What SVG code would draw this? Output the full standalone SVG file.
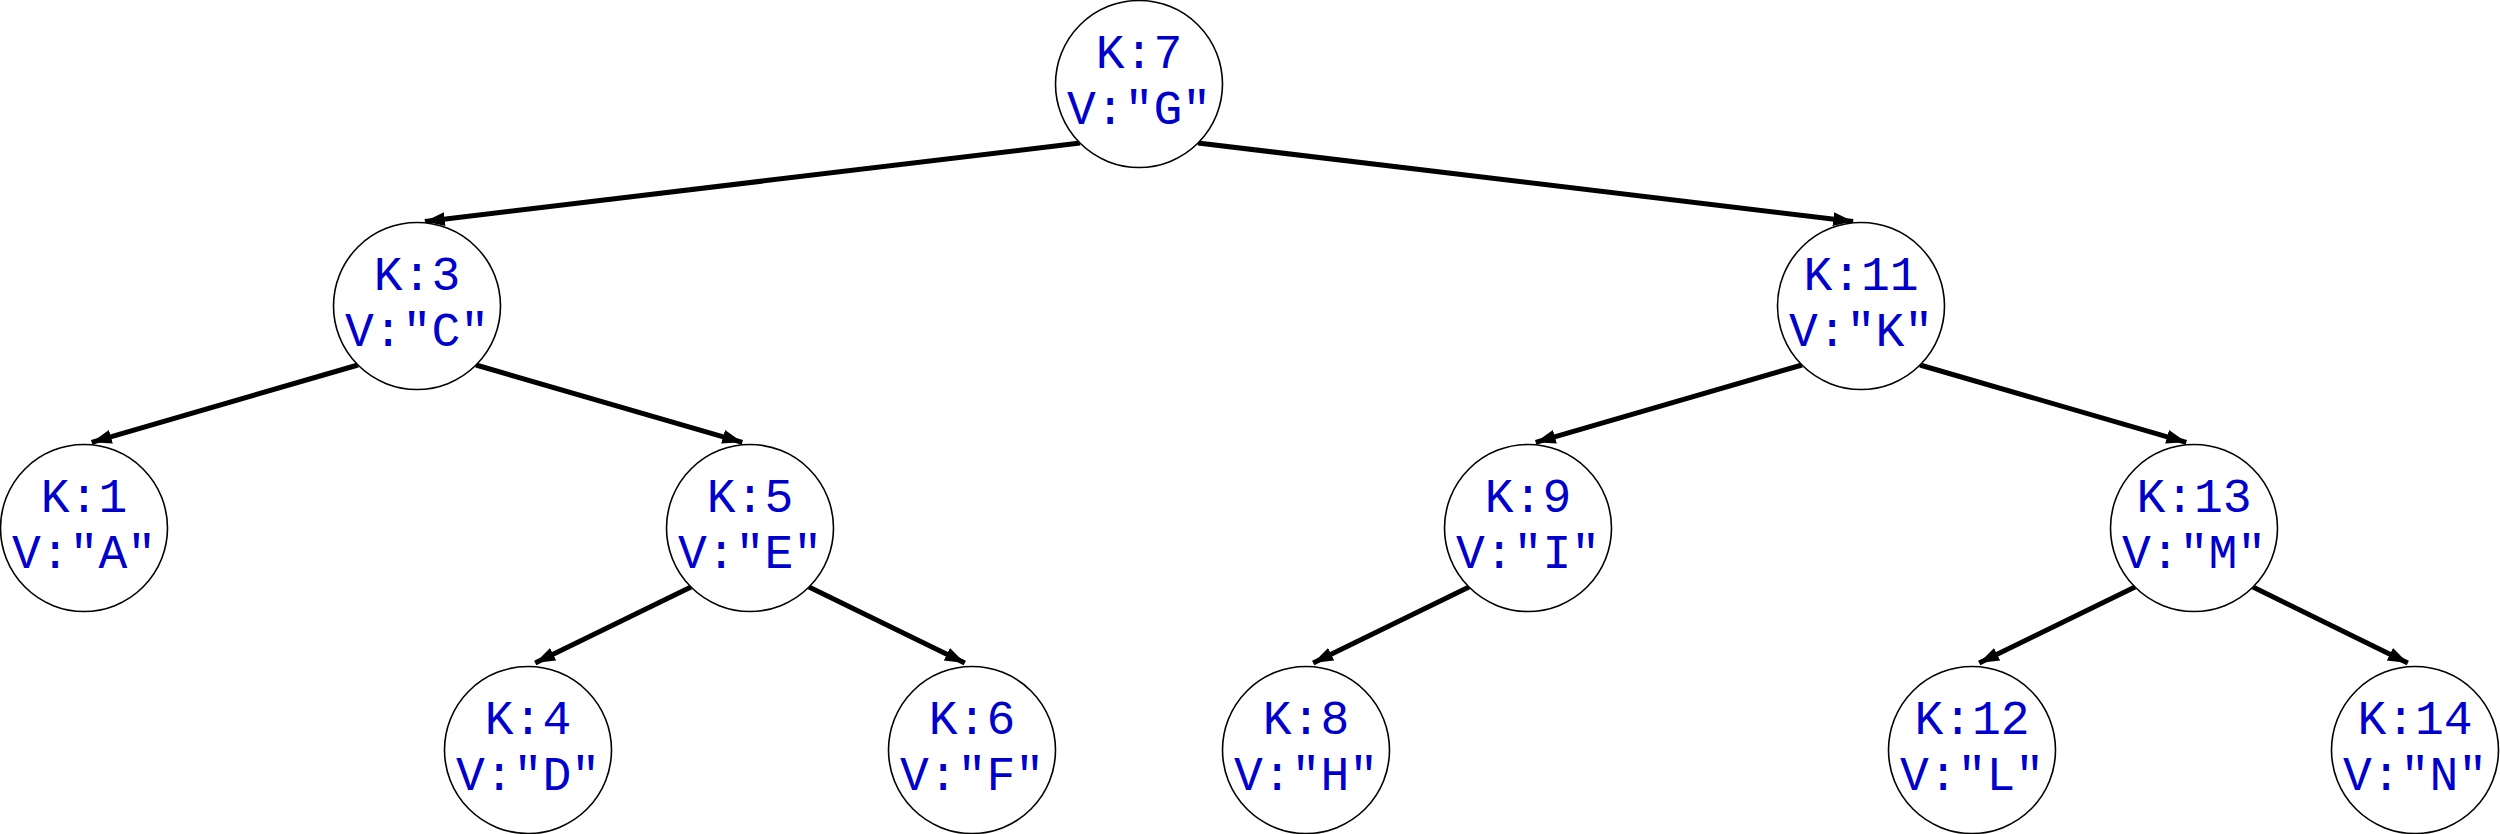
<svg xmlns="http://www.w3.org/2000/svg" width="2500" height="834" viewBox="0 0 2500 834">
<style>
  .node circle { fill: #ffffff; stroke: #000000; stroke-width: 1.6; }
  .node text { fill: #0000cd; font-family: "Liberation Mono", "DejaVu Sans Mono", monospace; font-size: 48px; text-anchor: middle; }
  .edges line { stroke: #000000; stroke-width: 5; marker-end: url(#arrow); }
</style>
<defs>
  <marker id="arrow" markerUnits="userSpaceOnUse" markerWidth="22" markerHeight="16" refX="20" refY="7" orient="auto">
    <path d="M0,0 L20,7 L0,14 z" fill="#000000"/>
  </marker>
</defs>
<rect width="2500" height="834" fill="#ffffff"/>
<g id="edges" class="edges">
  <line x1="1080" y1="143" x2="424.9" y2="221.5"/>
  <line x1="1198" y1="143" x2="1853.1" y2="221.5"/>
  <line x1="358" y1="365" x2="91.7" y2="442.3"/>
  <line x1="476" y1="365" x2="742.3" y2="442.3"/>
  <line x1="1802" y1="365" x2="1535.7" y2="442.3"/>
  <line x1="1920" y1="365" x2="2186.3" y2="442.3"/>
  <line x1="691" y1="587" x2="535.2" y2="663"/>
  <line x1="809" y1="587" x2="964.8" y2="663"/>
  <line x1="1469" y1="587" x2="1313.2" y2="663"/>
  <line x1="2135" y1="587" x2="1979.2" y2="663"/>
  <line x1="2253" y1="587" x2="2407.8" y2="663"/>
</g>
<g id="n7" class="node"><circle cx="1139" cy="84" r="83.5"/><text x="1139" y="68">K:7</text><text x="1139" y="124">V:"G"</text></g>
<g id="n3" class="node"><circle cx="417" cy="306" r="83.5"/><text x="417" y="290">K:3</text><text x="417" y="346">V:"C"</text></g>
<g id="n11" class="node"><circle cx="1861" cy="306" r="83.5"/><text x="1861" y="290">K:11</text><text x="1861" y="346">V:"K"</text></g>
<g id="n1" class="node"><circle cx="84" cy="528" r="83.5"/><text x="84" y="512">K:1</text><text x="84" y="568">V:"A"</text></g>
<g id="n5" class="node"><circle cx="750" cy="528" r="83.5"/><text x="750" y="512">K:5</text><text x="750" y="568">V:"E"</text></g>
<g id="n9" class="node"><circle cx="1528" cy="528" r="83.5"/><text x="1528" y="512">K:9</text><text x="1528" y="568">V:"I"</text></g>
<g id="n13" class="node"><circle cx="2194" cy="528" r="83.5"/><text x="2194" y="512">K:13</text><text x="2194" y="568">V:"M"</text></g>
<g id="n4" class="node"><circle cx="528" cy="750" r="83.5"/><text x="528" y="734">K:4</text><text x="528" y="790">V:"D"</text></g>
<g id="n6" class="node"><circle cx="972" cy="750" r="83.5"/><text x="972" y="734">K:6</text><text x="972" y="790">V:"F"</text></g>
<g id="n8" class="node"><circle cx="1306" cy="750" r="83.5"/><text x="1306" y="734">K:8</text><text x="1306" y="790">V:"H"</text></g>
<g id="n12" class="node"><circle cx="1972" cy="750" r="83.5"/><text x="1972" y="734">K:12</text><text x="1972" y="790">V:"L"</text></g>
<g id="n14" class="node"><circle cx="2415" cy="750" r="83.5"/><text x="2415" y="734">K:14</text><text x="2415" y="790">V:"N"</text></g>
</svg>
